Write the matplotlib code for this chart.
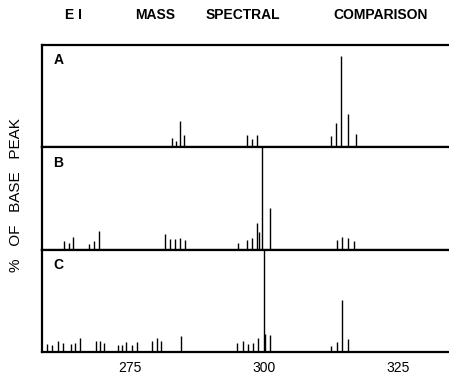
import matplotlib
matplotlib.use('Agg')
import matplotlib.pyplot as plt

plt.rcParams['font.family'] = ['Liberation Sans', 'DejaVu Sans']

# spectrum A
mz_a = [282.9, 283.6, 284.3, 285.1, 296.9, 297.7, 298.6,
        312.4, 313.3, 314.3, 315.7, 317.1]
int_a = [9, 6, 26, 12, 12, 8, 12, 11, 24, 89, 33, 13]

# spectrum B
mz_b = [262.8, 263.8, 264.5, 267.5, 268.3, 269.3, 281.6, 282.5, 283.4,
        284.4, 285.3, 295.1, 296.8, 297.8, 298.75, 299.1, 299.7, 301.1,
        313.5, 314.5, 315.7, 316.8]
int_b = [8, 7, 12, 6, 8, 18, 15, 10, 10, 11, 9, 7, 9, 11, 26, 17, 100, 41,
         9, 12, 11, 8]

# spectrum C
mz_c = [259.6, 260.6, 261.7, 262.6, 264.1, 264.9, 265.7, 268.7, 269.5,
        270.3, 272.8, 273.5, 274.4, 275.4, 276.3, 279.1, 280.0, 280.8,
        284.5, 295.0, 296.0, 297.0, 298.0, 298.9, 299.9, 300.2, 301.1,
        312.4, 313.5, 314.5, 315.7]
int_c = [7.4, 7, 11, 8.7, 7.4, 8.7, 13.7, 11, 10.6, 8.7, 6.4, 6.4, 9.6,
         6.4, 9.6, 10.3, 13.7, 10.3, 16, 8.7, 11, 8, 8.7, 13.5, 100, 18, 17,
         5.5, 10, 51, 12.5]

panel_labels = ['A', 'B', 'C']
xticks = [275, 300, 325]
x_min, x_max = 258.7, 334.4
title_words = ['E I', 'MASS', 'SPECTRAL', 'COMPARISON']
title_x = [73, 155, 243, 381]  # centre of each word, px


def draw_panel(ax, mz, inten, label):
    ax.vlines(mz, 0, inten, colors='black', linewidth=1.0, clip_on=False)
    ax.set_xlim(x_min, x_max)
    ax.set_ylim(0, 100)
    ax.set_yticks([])
    ax.spines['right'].set_visible(False)
    for s in ['left', 'top', 'bottom']:
        ax.spines[s].set_linewidth(1.6)
    ax.text(0.028, 0.92, label, transform=ax.transAxes, fontsize=10,
            fontweight='bold', va='top', ha='left')
    ax.tick_params(axis='x', length=0, pad=6.5, labelsize=10)


fig = plt.figure(figsize=(4.49, 3.75), dpi=100)
axes = fig.subplots(3, 1, sharex=True)
fig.subplots_adjust(left=42 / 449, right=1.0, top=1 - 45 / 375,
                    bottom=1 - 352 / 375, hspace=0)

data = [(mz_a, int_a), (mz_b, int_b), (mz_c, int_c)]
for ax, (mz, inten), lab in zip(axes, data, panel_labels):
    draw_panel(ax, mz, inten, lab)

axes[2].set_xticks(xticks)
axes[2].set_xticklabels([str(t) for t in xticks])

for word, px in zip(title_words, title_x):
    fig.text(px / 449, 1 - 15 / 375, word, fontsize=10, fontweight='bold',
             va='center', ha='center')

fig.text(16 / 449, 1 - 195 / 375, '%   OF   BASE   PEAK', fontsize=11,
         rotation=90, va='center', ha='center')

fig.savefig('out.png', dpi=100)
